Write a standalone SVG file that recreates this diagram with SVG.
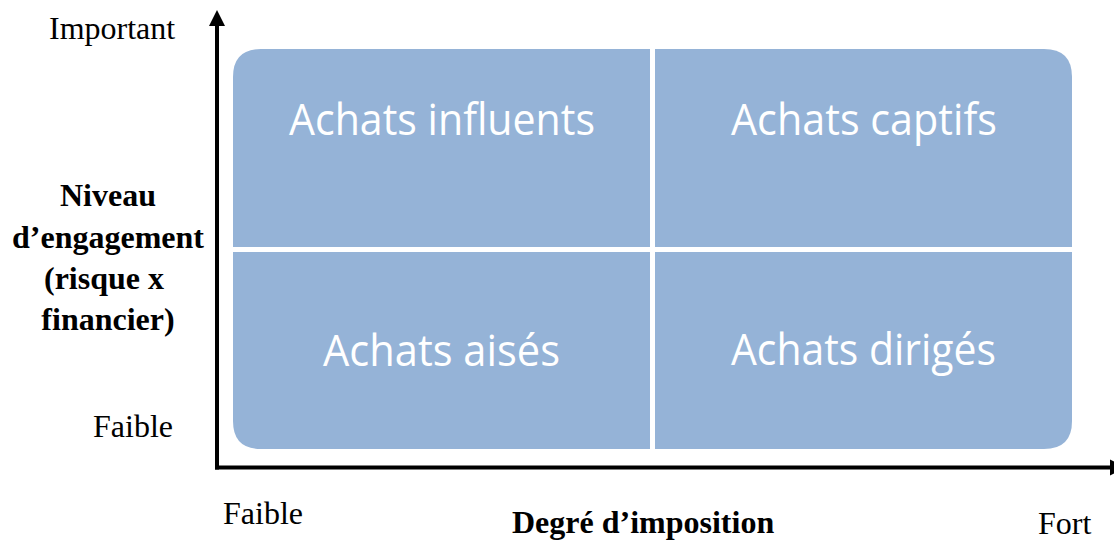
<svg xmlns="http://www.w3.org/2000/svg" width="1114" height="543" viewBox="0 0 1114 543">
<style>
.q{fill:#95B3D7}
.qt{font-family:"Open Sans","Liberation Sans",sans-serif;font-size:43px;fill:#ffffff}
.lab{font-family:"Liberation Serif","Times New Roman",serif;font-size:32px;fill:#000}
.b{font-weight:bold}
.mid{text-anchor:middle}
.axis{stroke:#000;stroke-width:4;fill:none}
</style>
<rect width="1114" height="543" fill="#ffffff"/>
<g id="quadrant-influents">
<path class="q" d="M233,77 Q233,49 261,49 L650,49 L650,247 L233,247 Z"/>
<text class="qt" x="289" y="135" textLength="306" lengthAdjust="spacingAndGlyphs">Achats influents</text>
</g>
<g id="quadrant-captifs">
<path class="q" d="M655,49 L1044,49 Q1072,49 1072,77 L1072,247 L655,247 Z"/>
<text class="qt" x="731" y="135" textLength="266" lengthAdjust="spacingAndGlyphs">Achats captifs</text>
</g>
<g id="quadrant-aises">
<path class="q" d="M233,252 L650,252 L650,449 L261,449 Q233,449 233,421 Z"/>
<text class="qt" x="323" y="366" textLength="237" lengthAdjust="spacingAndGlyphs">Achats aisés</text>
</g>
<g id="quadrant-diriges">
<path class="q" d="M655,252 L1072,252 L1072,421 Q1072,449 1044,449 L655,449 Z"/>
<text class="qt" x="731" y="365" textLength="265" lengthAdjust="spacingAndGlyphs">Achats dirigés</text>
</g>
<g id="connectors">
<line class="axis" x1="217" y1="24" x2="217" y2="469.5"/>
<polygon points="217,10 209,26 225,26" fill="#000"/>
<line class="axis" x1="215" y1="467.5" x2="1111" y2="467.5"/>
<polygon points="1110,459.5 1126,467.5 1110,475.5" fill="#000"/>
</g>
<g id="label-y">
<text class="lab" x="49" y="39">Important</text>
<text class="lab" x="93" y="437">Faible</text>
<text class="lab b mid" x="108" y="206">Niveau</text>
<text class="lab b mid" x="108" y="248">d’engagement</text>
<text class="lab b mid" x="104" y="289">(risque x</text>
<text class="lab b mid" x="108" y="330">financier)</text>
</g>
<g id="label-x">
<text class="lab" x="223" y="524">Faible</text>
<text class="lab b" x="512" y="533">Degré d’imposition</text>
<text class="lab" x="1038" y="534">Fort</text>
</g>
</svg>
